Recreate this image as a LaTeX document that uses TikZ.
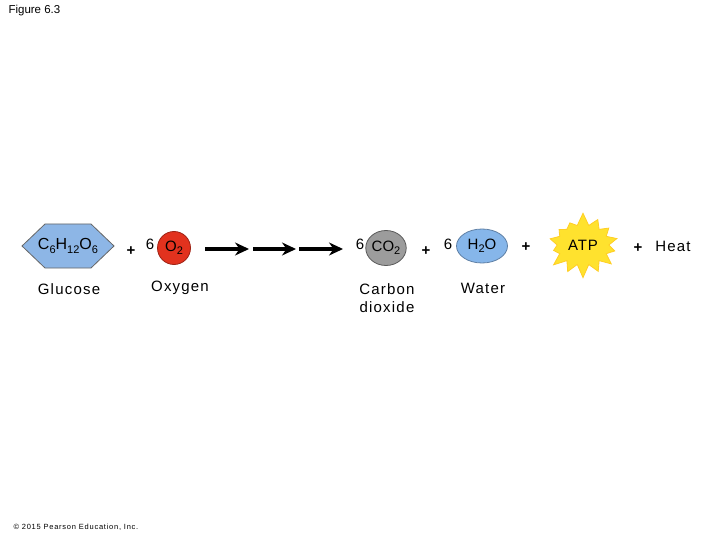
\documentclass[tikz,border=0pt]{standalone}
\usepackage{fontspec}
\setmainfont{Liberation Sans}
\usetikzlibrary{shapes.geometric,shapes.symbols,arrows.meta,positioning}

\definecolor{glcblue}{HTML}{8DB6E6}
\definecolor{oxred}{HTML}{E2321E}
\definecolor{cogray}{HTML}{9C9C9C}
\definecolor{wblue}{HTML}{86B6EA}
\definecolor{atpyel}{HTML}{FFE22E}

\newcommand{\chemsub}[1]{\raisebox{-0.4ex}{\fontsize{11}{11}\selectfont #1}}

\begin{document}
\begin{tikzpicture}[
    x=1pt, y=-1pt,
    molname/.style={font=\fontsize{15}{18}\selectfont\addfontfeature{LetterSpace=8}, align=center},
    formula/.style={font=\fontsize{16}{18}\selectfont, inner sep=0pt},
    coef/.style={font=\fontsize{15}{18}\selectfont},
    plus/.style={font=\fontsize{15}{15}\selectfont\bfseries},
    molball/.style={ellipse, draw=black!65, line width=0.8pt, inner sep=0pt, font=\fontsize{15}{18}\selectfont},
    rxn/.style={line width=3.5pt, -{Stealth[length=14pt, width=13pt]}}
]
    \useasboundingbox (0,0) rectangle (720,540);

    % Captions
    \node[anchor=west, font=\fontsize{11.5}{13}\selectfont] (fig) at (5,11) {Figure 6.3};
    \node[anchor=west, font=\fontsize{7.5}{9}\selectfont\addfontfeature{LetterSpace=10}] (copy) at (10,527) {\textcopyright{} 2015 Pearson Education, Inc.};

    % Reactants
    \draw[draw=black!60, line width=0.8pt, fill=glcblue]
        (22,246) -- (45,224) -- (91,224) -- (114,246) -- (91,268) -- (45,268) -- cycle;
    \node[formula] (glc) at (68,246) {C\chemsub{6}H\chemsub{12}O\chemsub{6}};
    \node[molname] (glclab) at (69,289) {Glucose};
    \node[plus] (p1) at (131,251) {+};
    \node[coef] (n1) at (150,244) {6};
    \node[molball, circle, draw=oxred!70!black, fill=oxred, minimum size=33pt] (o2) at (174,248) {O\chemsub{2}};
    \node[molname] (o2lab) at (180,288) {Oxygen};

    % Reaction arrows
    \coordinate (a0) at (205,249);
    \coordinate (a1) at (249,249);
    \coordinate (a2) at (253,249);
    \coordinate (a3) at (296,249);
    \coordinate (a4) at (299,249);
    \coordinate (a5) at (343,249);
    \foreach \s/\e in {a0/a1, a2/a3, a4/a5} {
        \draw[rxn] (\s) -- (\e);
    }

    % Products
    \node[coef] (n2) at (360,244) {6};
    \node[molball, fill=cogray, minimum width=38pt, minimum height=35pt] (co2) at (386,248) {CO\chemsub{2}};
    \node[molname] (co2lab) at (387,298) {Carbon\\dioxide};
    \node[plus] (p2) at (426,251) {+};
    \node[coef] (n3) at (448,244) {6};
    \node[molball, draw=wblue!70!black, fill=wblue, minimum width=51pt, minimum height=34pt] (h2o) at (482,246) {H\chemsub{2}O};
    \node[molname] (h2olab) at (483,288) {Water};
    \node[plus] (p3) at (526,247) {+};
    \node[starburst, starburst points=14, starburst point height=13pt, random starburst=7,
          draw=atpyel!80!orange, line width=0.8pt, fill=atpyel, minimum width=68pt, minimum height=66pt,
          font=\fontsize{15}{18}\selectfont\addfontfeature{LetterSpace=6}] (atp) at (583,245) {ATP};
    \node[plus] (p4) at (638,248) {+};
    \node[molname] (heat) at (673,246) {Heat};

\end{tikzpicture}
\end{document}
